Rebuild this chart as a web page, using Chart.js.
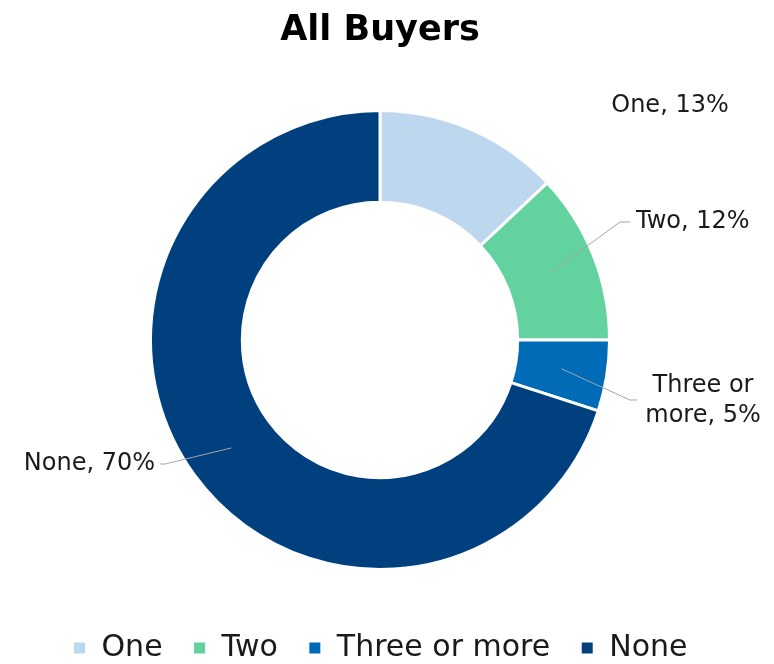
<!DOCTYPE html>
<html>
<head>
<meta charset="utf-8">
<script src="https://cdn.jsdelivr.net/npm/chart.js@4/dist/chart.umd.min.js"></script>
<style>
  html, body { margin: 0; padding: 0; background: #fff; }
  #wrap { width: 774px; height: 664px; }
</style>
</head>
<body>
<div id="wrap"><canvas id="buyersChart"></canvas></div>
<script>
// datos del grafico
const categories = ['One', 'Two', 'Three or more', 'None'];
const shares = [13, 12, 5, 70];
const sliceColors = ['#BDD7EE', '#62D29F', '#006CB7', '#00407F'];

// etiquetas con linea guia (posiciones relativas al centro del donut)
const labelSpots = [
    { dx: 290, dy: -234, align: 'center', elbow: null },
    { dx: 256, dy: -118, align: 'left', elbow: { dx: 240, dy: -118 } },
    { dx: 323, dy: 61, align: 'center', elbow: { dx: 250, dy: 60 } },
    { dx: -225, dy: 124, align: 'right', elbow: { dx: -215, dy: 124 } }
];

const leaderLabels = {
    id: 'leaderLabels',
    afterDatasetsDraw(chart) {
        const ctx = chart.ctx;
        const meta = chart.getDatasetMeta(0);
        ctx.save();
        ctx.font = '24px "DejaVu Sans"';
        ctx.fillStyle = '#1a1a1a';
        ctx.strokeStyle = '#A6A6A6';
        ctx.lineWidth = 1;
        ctx.textBaseline = 'middle';
        meta.data.forEach((arc, i) => {
            const { x: cx, y: cy } = arc.getProps(['x', 'y'], true);
            const spot = labelSpots[i];
            const tx = cx + spot.dx;
            const ty = cy + spot.dy;
            if (spot.elbow) {
                const mid = arc.tooltipPosition(true);
                const ex = cx + spot.elbow.dx;
                const ey = cy + spot.elbow.dy;
                const endX = spot.align === 'right' ? tx + 5 : (spot.align === 'left' ? tx - 6 : ex + 7);
                ctx.beginPath();
                ctx.moveTo(mid.x, mid.y);
                ctx.lineTo(ex, ey);
                ctx.lineTo(endX, ey);
                ctx.stroke();
            }
            const text = categories[i] + ', ' + shares[i] + '%';
            let lines = [text];
            if (categories[i] === 'Three or more') lines = ['Three or', 'more, ' + shares[i] + '%'];
            ctx.textAlign = spot.align;
            const lh = 30;
            lines.forEach((ln, k) => {
                ctx.fillText(ln, tx, ty + (k - (lines.length - 1) / 2) * lh);
            });
        });
        ctx.restore();
    }
};

const ctx = document.getElementById('buyersChart').getContext('2d');
const buyersChart = new Chart(ctx, {
    type: 'doughnut',
    data: {
        labels: categories,
        datasets: [{
            data: shares,
            backgroundColor: sliceColors,
            borderColor: '#ffffff',
            borderWidth: 3
        }]
    },
    options: {
        responsive: true,
        maintainAspectRatio: false,
        animation: false,
        cutout: '60%',
        layout: { padding: { top: 10, right: 14, bottom: 0, left: 0 } },
        plugins: {
            title: {
                display: true,
                text: 'All Buyers',
                color: '#000',
                font: { family: '"DejaVu Sans"', size: 35, weight: 'bold' },
                padding: { top: 0, bottom: 57 }
            },
            legend: {
                position: 'bottom',
                maxHeight: 93,
                title: {
                    display: true,
                    text: ' ',
                    font: { size: 10 },
                    padding: { top: 20, bottom: 0 }
                },
                labels: {
                    boxWidth: 14,
                    boxHeight: 14,
                    padding: 30,
                    color: '#1a1a1a',
                    font: { family: '"DejaVu Sans"', size: 30 }
                }
            },
            tooltip: { enabled: false }
        }
    },
    plugins: [leaderLabels]
});
</script>
</body>
</html>
